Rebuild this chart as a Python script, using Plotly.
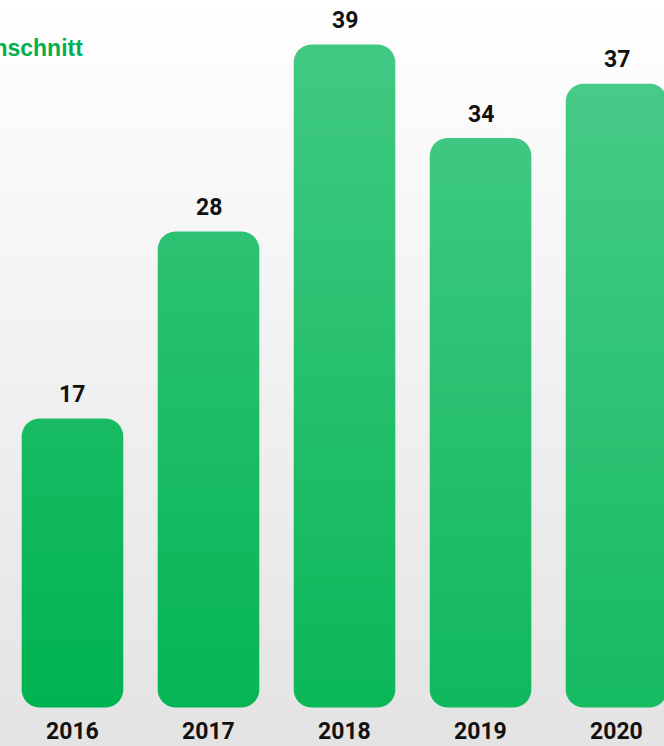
import numpy as np
import plotly.graph_objects as go

# ---- data ----
years = ["2016", "2017", "2018", "2019", "2020"]
values = [17, 28, 39, 33.5, 36.7]
value_labels = [f"{v:.0f}" for v in values]
title_text = "Durchschnitt"

# ---- layout constants ----
W, H = 664, 746
X_RANGE = [-0.533, 4.349]
Y_RANGE = [-2.265, 41.62]
BAR_W = 0.747
RADIUS_PX = 18
PX_X = W / (X_RANGE[1] - X_RANGE[0])
PX_Y = H / (Y_RANGE[1] - Y_RANGE[0])

C0 = np.array([0x00, 0xB3, 0x50])
C1 = np.array([0x47, 0xCB, 0x88])


def col(t):
    t = min(max(t, 0), 1)
    c = C0 + (C1 - C0) * t
    return "rgb(%d,%d,%d)" % tuple(int(round(v)) for v in c)


def shade(i, v):
    return 0.76 * v / max(values) + 0.3 * i / (len(values) - 1)


def rounded_bar(xc, v, n=14):
    rx = RADIUS_PX / PX_X
    ry = RADIUS_PX / PX_Y
    x0, x1 = xc - BAR_W / 2, xc + BAR_W / 2
    y0, y1 = 0, v
    xs, ys = [], []
    corners = [
        (x0 + rx, y1 - ry, 180, 90),
        (x1 - rx, y1 - ry, 90, 0),
        (x1 - rx, y0 + ry, 0, -90),
        (x0 + rx, y0 + ry, -90, -180),
    ]
    for cx, cy, a0, a1 in corners:
        a = np.radians(np.linspace(a0, a1, n))
        xs.extend(cx + rx * np.cos(a))
        ys.extend(cy + ry * np.sin(a))
    xs.append(xs[0])
    ys.append(ys[0])
    return xs, ys


fig = go.Figure()

# background gradient
fig.add_trace(go.Scatter(
    x=[X_RANGE[0], X_RANGE[1], X_RANGE[1], X_RANGE[0], X_RANGE[0]],
    y=[Y_RANGE[0], Y_RANGE[0], Y_RANGE[1], Y_RANGE[1], Y_RANGE[0]],
    mode="none", fill="toself",
    fillgradient=dict(type="vertical",
                      colorscale=[[0, "#e3e3e3"], [0.5, "#f1f1f1"], [1, "#ffffff"]]),
    hoverinfo="skip", showlegend=False,
))

for i, (yr, v) in enumerate(zip(years, values)):
    xs, ys = rounded_bar(i, v)
    fig.add_trace(go.Scatter(
        x=xs, y=ys, mode="none", fill="toself",
        fillgradient=dict(type="vertical",
                          colorscale=[[0, col(shade(i, 0))], [1, col(shade(i, v))]],
                          start=0, stop=v),
        hoverinfo="skip", showlegend=False, name=yr,
    ))

label_font = dict(family="Roboto, Liberation Sans, Arial",
                  size=23, color="#111111", weight="bold")
annotations = []
for i, (yr, v, lab) in enumerate(zip(years, values, value_labels)):
    annotations.append(dict(x=i, y=v, xref="x", yref="y", text=lab, showarrow=False,
                            yanchor="middle", yshift=24, font=label_font))
    annotations.append(dict(x=i, y=0, xref="x", yref="y", text=yr, showarrow=False,
                            yanchor="middle", yshift=-24, font=label_font))

annotations.append(dict(x=85 / W, y=1 - 48 / H, xref="paper", yref="paper", text=title_text,
                        showarrow=False, xanchor="right", yanchor="middle",
                        font=dict(family="Liberation Sans, Arial", size=23,
                                  color="#00b050", weight="bold")))

fig.update_layout(
    width=W, height=H,
    margin=dict(l=0, r=0, t=0, b=0),
    paper_bgcolor="#ffffff", plot_bgcolor="rgba(0,0,0,0)",
    xaxis=dict(range=X_RANGE, visible=False, fixedrange=True),
    yaxis=dict(range=Y_RANGE, visible=False, fixedrange=True),
    annotations=annotations,
    showlegend=False,
)

fig.write_html("out.html")
